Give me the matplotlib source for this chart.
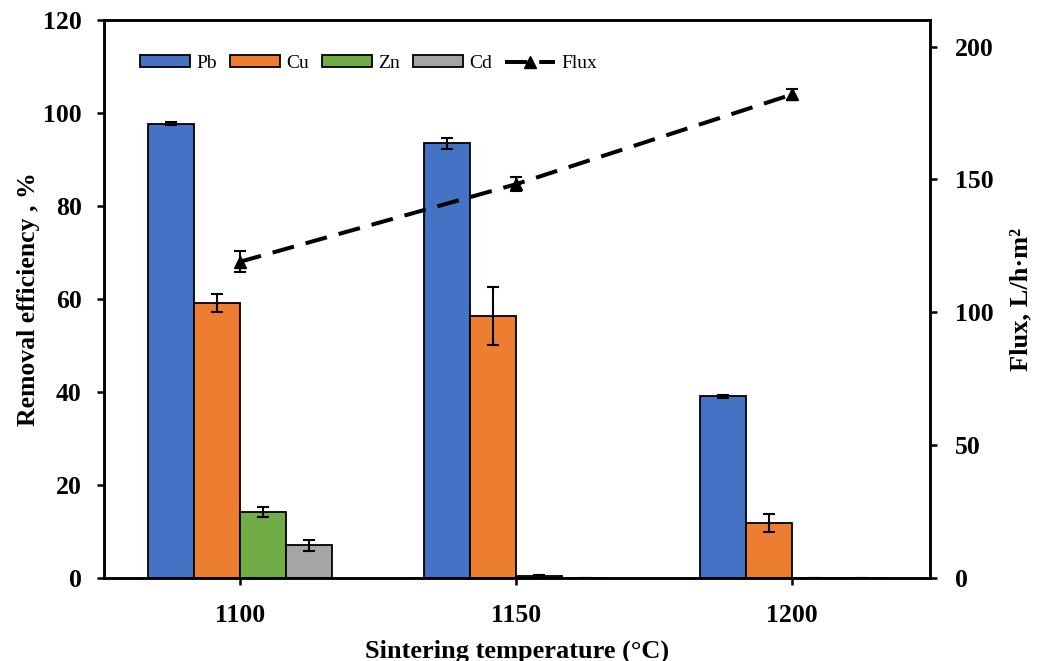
import matplotlib
matplotlib.use("Agg")
import matplotlib.pyplot as plt
import numpy as np

plt.rcParams['font.family'] = ['Liberation Serif', 'DejaVu Serif']

temps = [1100, 1150, 1200]

pb = [97.7, 93.5, 39.1]
pb_err = [0.3, 1.2, 0.3]
cu = [59.1, 56.3, 11.8]
cu_err = [1.9, 6.2, 2.0]
zn = [14.2, 0.4, 0.0]
zn_err = [1.1, 0.3, 0.0]
cd = [7.0, 0.0, 0.0]
cd_err = [1.2, 0.0, 0.0]

flux = [119.0, 148.2, 182.0]
flux_err = [4.0, 2.7, 2.0]

metals = ['Pb', 'Cu', 'Zn', 'Cd']
colors = ['#4472C4', '#ED7D31', '#70AD47', '#A5A5A5']


def main():
    fig = plt.figure(figsize=(10.38, 6.61), dpi=100)
    ax = fig.add_axes([0.100, 0.1256, 0.796, 0.844])
    ax2 = ax.twinx()

    x = np.array(temps, dtype=float)
    w = 50 / 6
    series = [(pb, pb_err), (cu, cu_err), (zn, zn_err), (cd, cd_err)]
    handles = []
    for i, (vals, errs) in enumerate(series):
        pos = x + (i - 1.5) * w
        b = ax.bar(pos, vals, width=w, color=colors[i], edgecolor='black',
                   linewidth=1.3, label=metals[i], zorder=2)
        ax.errorbar(pos, vals, yerr=errs, fmt='none', ecolor='black',
                    elinewidth=1.5, capsize=4.5, capthick=1.5, zorder=3)
        handles.append(b)

    line, = ax2.plot(temps, flux, color='black', lw=2.9, dashes=(5.5, 3),
                     marker='^', markersize=9, label='Flux', zorder=4)
    ax2.errorbar(temps, flux, yerr=flux_err, fmt='none', ecolor='black',
                 elinewidth=1.5, capsize=4.5, capthick=1.5, zorder=4)
    handles.append(line)

    ax.set_xlim(1075.4, 1225)
    ax.set_ylim(0, 120)
    ax2.set_ylim(0, 210)
    ax.set_xticks(temps)
    ax.set_yticks(np.arange(0, 121, 20))
    ax2.set_yticks(np.arange(0, 201, 50))

    for a in (ax, ax2):
        for s in a.spines.values():
            s.set_linewidth(1.8)
        a.tick_params(direction='out', width=1.8, length=5, labelsize=18.5)
        for lab in a.get_xticklabels() + a.get_yticklabels():
            lab.set_fontweight('bold')
    ax.tick_params(axis='x', pad=14)
    ax.tick_params(axis='y', pad=11)
    ax2.tick_params(axis='y', pad=13)

    ax.set_xlabel('Sintering temperature (\u00b0C)', fontsize=19,
                  fontweight='bold', labelpad=9)
    ax.set_ylabel('Removal efficiency , %', fontsize=18.5,
                  fontweight='bold', labelpad=2)
    ax2.set_ylabel('Flux, L/h\u00b7m\u00b2', fontsize=19,
                   fontweight='bold', labelpad=11)

    ax2.legend(handles=handles, labels=metals + ['Flux'], loc='center left',
               bbox_to_anchor=(0.044, 0.922), ncol=5, frameon=False,
               fontsize=14, handlelength=2.58, handleheight=0.55,
               handletextpad=0.31, columnspacing=0.67, borderpad=0,
               borderaxespad=0)

    fig.savefig('out.png', dpi=100)


if __name__ == "__main__":
    main()
